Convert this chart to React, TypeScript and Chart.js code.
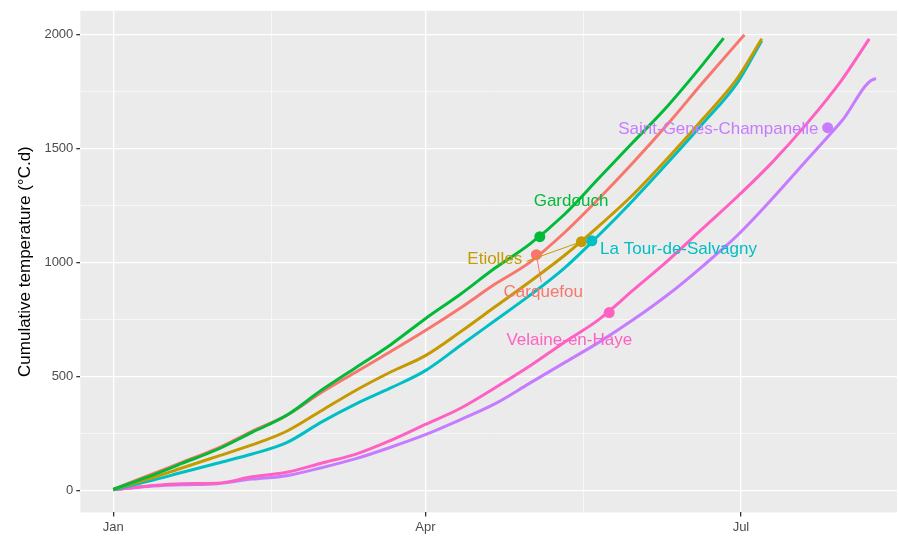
import React, { useEffect, useRef } from "react";
import Chart from "chart.js/auto";

const days = [0, 10, 20, 30, 40, 50, 60, 70, 80, 90, 100, 110, 120, 130, 140, 150, 160, 170, 180, 190, 200, 210, 220];
const gardouch = [5, 60, 120, 180, 255, 330, 440, 540, 640, 754, 860, 975, 1080, 1210, 1370, 1530, 1690, 1870];
const carquefou = [5, 65, 125, 185, 260, 330, 430, 520, 610, 702, 800, 905, 1000, 1130, 1280, 1440, 1610, 1790];
const etiolles = [5, 50, 100, 150, 200, 260, 350, 440, 520, 592, 695, 805, 915, 1030, 1160, 1300, 1460, 1630, 1810];
const latour = [3, 40, 80, 120, 160, 210, 300, 380, 450, 526, 635, 745, 855, 975, 1120, 1275, 1440, 1610, 1790];
const velaine = [3, 20, 30, 32, 60, 80, 120, 160, 220, 290, 360, 450, 545, 650, 750, 880, 1010, 1150, 1290, 1440, 1610, 1800];
const stgenes = [3, 18, 25, 30, 50, 65, 100, 140, 190, 245, 310, 380, 470, 560, 650, 750, 860, 985, 1120, 1280, 1450, 1620, 1807];
// final partial points [day, value]
const ends: [number, number][] = [[176, 1985], [182, 2000], [187, 1982], [187, 1974], [218, 1982], [220, 1807]];

const names = ["Gardouch", "Carquefou", "Etiolles", "La Tour-de-Salvagny", "Velaine-en-Haye", "Saint-Genes-Champanelle"];
const colors = ["#00BA38", "#F8766D", "#C49A00", "#00BFC4", "#FF61C3", "#C77CFF"];
// highlighted points [day, value]
const marks: [number, number][] = [[123, 1114], [122, 1035], [135, 1092], [138, 1096], [143, 781], [206, 1592]];
// label anchors [day, value]
const labelPos: [number, number][] = [[132, 1270], [124, 870], [110, 1015], [163, 1060], [131.5, 660], [174.5, 1585]];

const xMajor = [0, 90, 181];
const xLabels = ["Jan", "Apr", "Jul"];

function toPoints(vals: number[], end: [number, number]) {
  const pts = vals.map((v, i) => ({ x: days[i], y: v }));
  pts.push({ x: end[0], y: end[1] });
  return pts.sort((a, b) => a.x - b.x);
}

const App: React.FC = () => {
  const ref = useRef<HTMLCanvasElement>(null);
  useEffect(() => {
    if (!ref.current) return;
    const series = [gardouch, carquefou, etiolles, latour, velaine, stgenes];
    const panelBg = {
      id: "panelBg",
      beforeDraw(chart: any) {
        const { ctx, chartArea: a } = chart;
        ctx.save();
        ctx.fillStyle = "#EBEBEB";
        ctx.fillRect(a.left, a.top, a.right - a.left, a.bottom - a.top);
        ctx.restore();
      },
    };
    const labels = {
      id: "labels",
      afterDatasetsDraw(chart: any) {
        const { ctx, scales } = chart;
        ctx.save();
        ctx.font = "17px 'Liberation Sans', Arial, sans-serif";
        ctx.textAlign = "center";
        ctx.textBaseline = "middle";
        names.forEach((n, i) => {
          const px = scales.x.getPixelForValue(marks[i][0]);
          const py = scales.y.getPixelForValue(marks[i][1]);
          const lx = scales.x.getPixelForValue(labelPos[i][0]);
          const ly = scales.y.getPixelForValue(labelPos[i][1]);
          if (i === 1 || i === 2) {
            ctx.strokeStyle = colors[i];
            ctx.lineWidth = 1;
            ctx.beginPath();
            ctx.moveTo(px, py);
            if (i === 1) ctx.lineTo(lx - 2, ly - 10);
            else ctx.lineTo(lx + 32, ly + 2);
            ctx.stroke();
          }
          ctx.fillStyle = colors[i];
          ctx.beginPath();
          ctx.arc(px, py, 5.5, 0, Math.PI * 2);
          ctx.fill();
          ctx.fillText(n, lx, ly);
        });
        ctx.restore();
      },
    };
    const font = { family: "'Liberation Sans', Arial, sans-serif", size: 13 };
    const chart = new Chart(ref.current, {
      type: "line",
      data: {
        datasets: series.map((s, i) => ({
          label: names[i],
          data: toPoints(s, ends[i]),
          borderColor: colors[i],
          borderWidth: 3,
          pointRadius: 0,
          tension: 0.4,
          cubicInterpolationMode: "monotone" as const,
        })),
      },
      options: {
        animation: false,
        responsive: false,
        layout: { padding: { top: 10, right: 2, left: 11, bottom: 0 } },
        plugins: { legend: { display: false }, tooltip: { enabled: false } },
        scales: {
          x: {
            type: "linear",
            min: -9.5,
            max: 226,
            afterBuildTicks: (s: any) => {
              s.ticks = [0, 45.5, 90, 135.5, 181].map((v) => ({ value: v }));
            },
            grid: {
              color: "#FFFFFF",
              lineWidth: (c: any) => (xMajor.includes(c.tick?.value) ? 1.3 : 0.6),
              tickColor: (c: any) => (xMajor.includes(c.tick?.value) ? "#333333" : "rgba(0,0,0,0)"),
              tickLength: 4,
            },
            border: { display: false },
            ticks: {
              autoSkip: false,
              maxRotation: 0,
              color: "#4D4D4D",
              font,
              callback: (v: any) => {
                const k = xMajor.indexOf(v);
                return k >= 0 ? xLabels[k] : "";
              },
            },
          },
          y: {
            min: -96,
            max: 2105,
            afterBuildTicks: (s: any) => {
              s.ticks = [0, 250, 500, 750, 1000, 1250, 1500, 1750, 2000].map((v) => ({ value: v }));
            },
            grid: {
              color: "#FFFFFF",
              lineWidth: (c: any) => (c.tick?.value % 500 === 0 ? 1.3 : 0.6),
              tickColor: (c: any) => (c.tick?.value % 500 === 0 ? "#333333" : "rgba(0,0,0,0)"),
              tickLength: 4,
            },
            border: { display: false },
            title: {
              display: true,
              text: "Cumulative temperature (°C.d)",
              color: "#000000",
              font: { family: "'Liberation Sans', Arial, sans-serif", size: 17 },
              padding: { bottom: 6 },
            },
            ticks: {
              autoSkip: false,
              color: "#4D4D4D",
              font,
              callback: (v: any) => (v % 500 === 0 ? String(v) : ""),
            },
          },
        },
      },
      plugins: [panelBg, labels],
    });
    return () => chart.destroy();
  }, []);
  return (
    <div style={{ position: "absolute", left: 0, top: 0, background: "#fff" }}>
      <canvas ref={ref} width={899} height={538} />
    </div>
  );
};

export default App;
